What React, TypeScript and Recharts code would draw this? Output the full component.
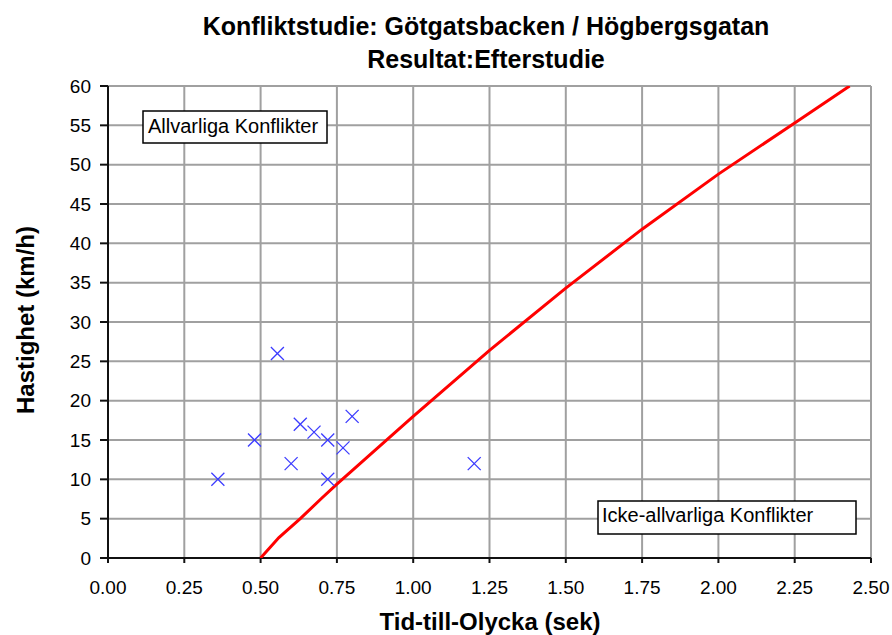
import React from "react";
import { ScatterChart, Scatter, XAxis, YAxis, CartesianGrid } from "recharts";

// Observed conflicts: time-to-accident (s) and speed (km/h)
const conflictTTC = [0.36, 0.48, 0.555, 0.6, 0.63, 0.675, 0.72, 0.72, 0.77, 0.8, 1.2];
const conflictSpeed = [10, 15, 26, 12, 17, 16, 15, 10, 14, 18, 12];

// Boundary curve between serious and non-serious conflicts
const boundaryTTC = [0.5, 0.56, 0.63, 0.7, 0.75, 1.0, 1.25, 1.5, 1.75, 2.0, 2.25, 2.43];
const boundarySpeed = [0, 2.6, 5, 7.6, 9.4, 18, 26.4, 34.3, 41.8, 48.8, 55.3, 60];

const xTicks = [0, 0.25, 0.5, 0.75, 1.0, 1.25, 1.5, 1.75, 2.0, 2.25, 2.5];
const yTicks = [0, 5, 10, 15, 20, 25, 30, 35, 40, 45, 50, 55, 60];

const titleLine1 = "Konfliktstudie: Götgatsbacken / Högbergsgatan";
const titleLine2 = "Resultat:Efterstudie";
const xLabel = "Tid-till-Olycka (sek)";
const yLabel = "Hastighet (km/h)";
const seriousLabel = "Allvarliga Konflikter";
const nonSeriousLabel = "Icke-allvarliga Konflikter";

const conflicts = conflictTTC.map((x, i) => ({ x, y: conflictSpeed[i] }));
const boundary = boundaryTTC.map((x, i) => ({ x, y: boundarySpeed[i] }));

const FONT = "'Liberation Sans', Arial, sans-serif";

const CrossShape = (props: any) => {
  const { cx, cy } = props;
  if (cx == null || cy == null) return <g />;
  const r = 6.5;
  return (
    <g stroke="#3b3bff" strokeWidth={1.3}>
      <line x1={cx - r} y1={cy - r} x2={cx + r} y2={cy + r} />
      <line x1={cx - r} y1={cy + r} x2={cx + r} y2={cy - r} />
    </g>
  );
};

const NoShape = () => <g />;

export default function App() {
  return (
    <div style={{ position: "absolute", left: 0, top: 0, width: 892, height: 635, background: "#fff" }}>
      <ScatterChart
        width={892}
        height={635}
        margin={{ top: 86, right: 21, bottom: 0, left: 0 }}
      >
        <CartesianGrid stroke="#a0a0a0" strokeWidth={2} />
        <XAxis
          type="number"
          dataKey="x"
          domain={[0, 2.5]}
          ticks={xTicks}
          tickFormatter={(v: number) => v.toFixed(2)}
          height={77}
          tickSize={5}
          tickMargin={18}
          axisLine={{ stroke: "#111", strokeWidth: 2 }}
          tickLine={{ stroke: "#111", strokeWidth: 2 }}
          tick={{ fill: "#000", fontSize: 19, fontFamily: FONT }}
          allowDataOverflow
        />
        <YAxis
          type="number"
          dataKey="y"
          domain={[0, 60]}
          ticks={yTicks}
          width={108}
          tickSize={8}
          tickMargin={9}
          axisLine={{ stroke: "#111", strokeWidth: 2 }}
          tickLine={{ stroke: "#111", strokeWidth: 2 }}
          tick={{ fill: "#000", fontSize: 19, fontFamily: FONT }}
          allowDataOverflow
        />
        <Scatter
          data={boundary}
          line={{ stroke: "#ff0000", strokeWidth: 3 }}
          lineType="joint"
          shape={NoShape}
          isAnimationActive={false}
        />
        <Scatter data={conflicts} shape={CrossShape} isAnimationActive={false} />
      </ScatterChart>
      <svg
        width={892}
        height={635}
        style={{ position: "absolute", left: 0, top: 0, pointerEvents: "none" }}
        fontFamily={FONT}
      >
        <text x={486} y={35} textAnchor="middle" fontSize={25} fontWeight="bold" fill="#000">
          {titleLine1}
        </text>
        <text x={486} y={68} textAnchor="middle" fontSize={25} fontWeight="bold" fill="#000">
          {titleLine2}
        </text>
        <text x={490} y={630} textAnchor="middle" fontSize={24} fontWeight="bold" fill="#000">
          {xLabel}
        </text>
        <text
          x={34}
          y={320}
          textAnchor="middle"
          fontSize={24}
          fontWeight="bold"
          fill="#000"
          transform="rotate(-90 34 320)"
        >
          {yLabel}
        </text>
        <rect x={143} y={111} width={184} height={32} fill="#fff" stroke="#000" strokeWidth={1.5} />
        <text x={148} y={133} fontSize={20} fill="#000">
          {seriousLabel}
        </text>
        <rect x={598} y={501} width={258} height={33} fill="#fff" stroke="#000" strokeWidth={1.5} />
        <text x={602} y={522} fontSize={20} fill="#000">
          {nonSeriousLabel}
        </text>
      </svg>
    </div>
  );
}
